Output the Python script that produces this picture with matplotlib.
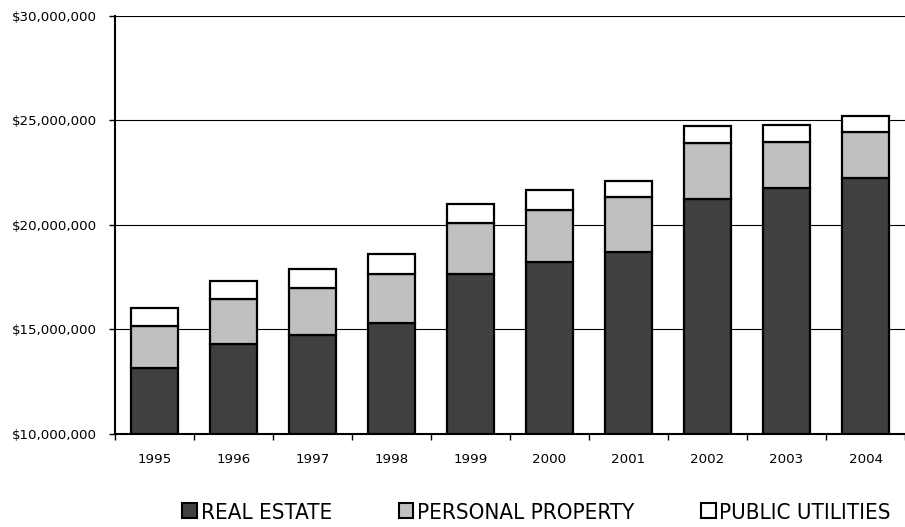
import numpy as np
import matplotlib.pyplot as plt
from matplotlib.patches import Patch
from matplotlib.ticker import FuncFormatter, MultipleLocator

# data (dollars)
years = ['1995', '1996', '1997', '1998', '1999', '2000', '2001', '2002', '2003', '2004']
real_estate = [13160000, 14300000, 14740000, 15330000, 17670000, 18210000, 18720000, 21240000, 21760000, 22250000]
personal_property = [2000000, 2160000, 2230000, 2330000, 2410000, 2520000, 2610000, 2700000, 2210000, 2180000]
public_utilities = [870000, 870000, 910000, 940000, 920000, 930000, 780000, 800000, 800000, 800000]

labels = ['REAL ESTATE', 'PERSONAL PROPERTY', 'PUBLIC UTILITIES']
colors = ['#404040', '#c0c0c0', '#ffffff']

fig = plt.figure(figsize=(9.05, 5.27), dpi=100)
ax = fig.add_axes([115 / 905, 1 - 434 / 527, 1 - 115 / 905, (434 - 16) / 527])

x = np.arange(len(years))
re = np.array(real_estate)
pp = np.array(personal_property)
pu = np.array(public_utilities)

# stacked bars, axis starts at $10M
kw = dict(width=0.6, edgecolor='black', linewidth=1.6, zorder=3)
ax.bar(x, re - 10000000, bottom=10000000, color=colors[0], **kw)
ax.bar(x, pp, bottom=re, color=colors[1], **kw)
ax.bar(x, pu, bottom=re + pp, color=colors[2], **kw)

ax.set_xlim(-0.5, len(years) - 0.5)
ax.set_ylim(10000000, 30000000)
ax.yaxis.set_major_locator(MultipleLocator(5000000))
ax.yaxis.set_major_formatter(FuncFormatter(lambda v, p: '${:,.0f}'.format(v)))
ax.yaxis.grid(True, color='black', linewidth=0.8)
ax.set_axisbelow(True)

ax.set_xticks(x)
ax.set_xticklabels(years)
ax.set_xticks(np.arange(-0.5, len(years)), minor=True)
ax.tick_params(axis='x', which='major', length=0, pad=14, labelsize=9.6)
ax.tick_params(axis='x', which='minor', length=4, width=1, direction='out')
ax.tick_params(axis='y', length=4, width=1, pad=9, labelsize=9.6)

for s in ['top', 'right']:
    ax.spines[s].set_visible(False)
ax.spines['left'].set_linewidth(1.5)
ax.spines['bottom'].set_linewidth(1.5)

handles = [Patch(facecolor=c, edgecolor='black', linewidth=1.5) for c in colors]
fig.legend(handles, labels, loc='center', bbox_to_anchor=(0.593, 0.027), ncol=3,
           frameon=False, handlelength=0.66, handleheight=0.66, handletextpad=0.17,
           columnspacing=3.0, borderpad=0,
           prop={'family': 'DejaVu Sans', 'stretch': 'condensed', 'size': 16})

fig.savefig('out.png', dpi=100)
